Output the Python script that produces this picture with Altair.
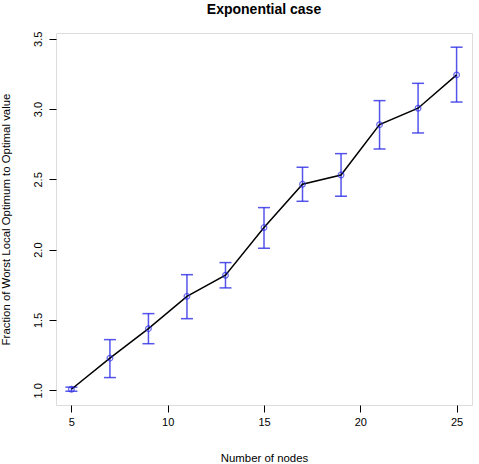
import altair as alt
import pandas as pd

# Mean ratio and its error-bar bounds for each network size
nodes = [5, 7, 9, 11, 13, 15, 17, 19, 21, 23, 25]
ratio_mean = [1.007, 1.228, 1.438, 1.668, 1.818, 2.157, 2.465, 2.531, 2.889, 3.006, 3.243]
ratio_low = [0.993, 1.090, 1.331, 1.509, 1.728, 2.010, 2.344, 2.380, 2.716, 2.830, 3.050]
ratio_high = [1.022, 1.360, 1.545, 1.822, 1.908, 2.299, 2.586, 2.683, 3.060, 3.183, 3.440]

x_ticks = [5, 10, 15, 20, 25]
y_ticks = [1.0, 1.5, 2.0, 2.5, 3.0, 3.5]

df = pd.DataFrame({"n": nodes, "mean": ratio_mean, "lo": ratio_low, "hi": ratio_high})

FONT = "Liberation Sans"
BLUE = "#2a2ae6"

x_enc = alt.X(
    "n:Q",
    scale=alt.Scale(domain=[4.2, 25.8], nice=False, zero=False),
    axis=alt.Axis(
        values=x_ticks, title="Number of nodes", grid=False, domain=False,
        tickSize=7, tickColor="black", labelFontSize=11, labelPadding=4,
        labelColor="black", titleFontSize=11.4, titleFontWeight="normal",
        titleColor="black", titlePadding=25, labelFont=FONT, titleFont=FONT,
    ),
)
y_scale = alt.Scale(domain=[0.895, 3.541], nice=False, zero=False)
y_axis = alt.Axis(
    values=y_ticks, format=".1f", title="Fraction of Worst Local Optimum to Optimal value",
    grid=False, domain=False, tickSize=7, tickColor="black", labelFontSize=11,
    labelAngle=-90, labelAlign="center", labelBaseline="bottom", labelPadding=6,
    labelColor="black", titleFontSize=11.4, titleFontWeight="normal", titleColor="black",
    titlePadding=21, labelFont=FONT, titleFont=FONT,
)

base = alt.Chart(df)

bars = base.mark_rule(color=BLUE, strokeWidth=1.5, opacity=0.8).encode(
    x=x_enc, y=alt.Y("lo:Q", scale=y_scale, axis=y_axis), y2="hi:Q"
)
cap_lo = base.mark_tick(color=BLUE, orient="horizontal", size=12, thickness=1.5, opacity=0.8).encode(
    x="n:Q", y="lo:Q"
)
cap_hi = base.mark_tick(color=BLUE, orient="horizontal", size=12, thickness=1.5, opacity=0.8).encode(
    x="n:Q", y="hi:Q"
)
line = base.mark_line(color="black", strokeWidth=1.5).encode(x="n:Q", y="mean:Q")
points = base.mark_point(shape="circle", filled=False, color=BLUE, size=32, strokeWidth=1.2).encode(
    x="n:Q", y="mean:Q"
)

chart = (
    alt.layer(bars, cap_lo, cap_hi, line, points)
    .properties(
        width=416,
        height=372,
        autosize=alt.AutoSizeParams(type="none"),
        padding={"left": 56, "top": 33, "right": 7, "bottom": 59},
        title=alt.TitleParams(
            "Exponential case", fontSize=14, fontWeight="bold", font=FONT,
            color="black", anchor="middle", offset=14,
        ),
    )
    .configure_view(stroke="black", strokeWidth=1)
    .configure(background="white")
)

chart.save("out.html", embed_options={"renderer": "svg", "actions": False})
